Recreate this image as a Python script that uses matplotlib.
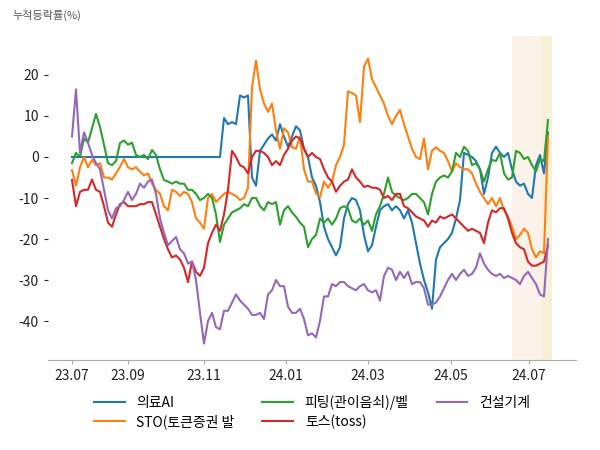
import matplotlib
matplotlib.use("Agg")
import matplotlib.pyplot as plt
from matplotlib.ticker import FuncFormatter

plt.rcParams['font.family'] = ['Noto Sans CJK KR', 'DejaVu Sans']

series_names = ["의료AI", "STO(토큰증권 발", "피팅(관이음쇠)/벨", "토스(toss)", "건설기계"]
series_colors = ["#1f77b4", "#ff7f0e", "#2ca02c", "#d62728", "#9467bd"]

medical_ai = [0]*38 + [
    9.5, 8, 8.5, 8, 15, 14.5, 15, -5, -7, 1.5,
    3, 4.5, 5.5, 4, 8, 5, 2.5, 5, 7.5, 6.5,
    2, 0, -5, -7, -11, -17, -20, -22, -24, -22,
    -15, -11.5, -10, -10.5, -13, -19, -23, -21.5, -17, -13,
    -12, -11.5, -13, -12, -13, -15, -13, -16, -21, -26,
    -30, -33, -37, -25, -22, -21, -20, -18.5, -15, -10.5,
    1, 0.5, 0, -1, -3, -9, -5, 1, 2.5, 1,
    0, 1, -3, -6, -7, -6.5, -9, -10, -2, 0.5,
    -4, 6]

sto = [
    -3.2, -7, -2.5, 0, -2.5, -0.7, -2, -1.5, -5, -5,
    -5.5, -4, -2.4, -0.5, -2.5, -3, -2.5, -3.6, -4.5, -4,
    -6.5, -8, -9, -12, -13, -8, -8.5, -9.5, -8.5, -9,
    -11, -15, -16, -17.5, -10, -9, -11, -10, -9, -8.5,
    -9, -9.5, -10.5, -10, -7.5, 17, 23.5, 16.5, 13, 11,
    13, 6.5, 2, 7, 6, 2.4, 2, 5, -3, -6,
    -6, -8.8, -9.8, -6, -7.5, -6, -2, 0, 3, 16,
    15.6, 15, 8.5, 22, 24, 19, 17, 15, 13, 10,
    8, 10, 11.5, 8, 5, 2, 0, -0.5, 4.5, -3,
    1.5, 2.4, 1.5, 1, -1, -3.5, -1.5, -2.5, -3, -3,
    -4, -6.5, -8.5, -10, -11.5, -10, -12, -10, -13, -14.5,
    -17, -20, -19, -17.5, -18.5, -22.5, -24.5, -23, -23.5, 5]

fitting = [
    -1.5, 1, 0, 4.5, 3.5, 7, 10.5, 7.3, 3, -1.5,
    -2, -1, 3.4, 4, 3, 3.5, 0.5, 0, 0.5, -0.5,
    1.7, 0.5, -3, -5.6, -6, -6.5, -6, -6.5, -6.5, -8,
    -8, -9, -10.5, -10, -9, -10, -14, -20.7, -16.5, -15,
    -13.5, -13, -12.5, -11.5, -12, -10, -10, -12, -13, -11,
    -11.5, -11, -16.5, -13, -12, -13.5, -14.6, -16, -17, -22,
    -20, -19, -15, -16, -15, -16.5, -15, -12.5, -12, -12.5,
    -15.5, -16, -15, -16.5, -15.5, -18, -14, -12, -9, -5,
    -8.5, -9.5, -10, -10.5, -10, -9, -9, -10, -11, -14,
    -9, -6, -5, -4.5, -5, -3.5, 1, 0, 2.5, 1.5,
    -2, -1.5, -3, -6, -3, -0.7, -1, 1, -4, -5.5,
    -5, 1.5, 1, -0.5, 0, -2, -3.5, -0.5, -1, 9]

toss = [
    -5.6, -12, -8.5, -8, -8, -5.5, -8, -8.5, -12, -16,
    -17, -14, -11.5, -11, -12, -12, -12, -11.5, -11.5, -11,
    -11, -14, -17, -20, -22.5, -24.5, -24, -25, -27, -30.5,
    -25.5, -28, -29, -27, -21, -18.5, -16.5, -18, -14, -8,
    1.5, 0, -2, -2.5, -4, 0, 1.5, 1.5, 1, 0,
    -2, -1, -2, 0.5, 2, 4, 5, 4.5, 2, 0,
    1, 0, -0.5, -3, -5, -6, -8.5, -7, -6, -5.5,
    -3, -5, -6, -7.3, -7, -7.5, -7.5, -8, -10, -9.5,
    -10.5, -9, -9, -12, -12.5, -13.5, -14.5, -15, -15.5, -17,
    -15.5, -16, -14.5, -15, -14.5, -14, -15, -16, -17, -18,
    -17.5, -18, -18.5, -21, -16, -13, -13.5, -12.5, -12.5, -15,
    -18.5, -21, -22, -22.5, -25.5, -26.5, -26.5, -26, -25.5, -21.5]

construction = [
    5, 16.5, 1, 6, 3.5, 0.5, -1.5, -3, -8, -13,
    -15, -12.5, -12, -10.5, -8.5, -10.5, -9, -6.5, -7.5, -6,
    -5.5, -9, -15, -18.5, -21.5, -20.5, -19.5, -22.5, -23.5, -26,
    -25.5, -30, -38, -45.5, -40, -38, -41.5, -42, -37.5, -37.5,
    -35.5, -33.5, -35, -36, -37, -38.5, -38.5, -38, -39.5, -33.5,
    -32.5, -30, -31.5, -31.5, -36.5, -38, -38, -37, -39.5, -43.5,
    -43, -44, -40, -34, -34, -31, -31.5, -30.5, -30.5, -31.5,
    -32, -32.5, -31.5, -31, -32.5, -33, -32.5, -35, -29, -27,
    -27.5, -30, -28, -29.5, -28, -31, -30.5, -30.5, -32, -36,
    -36, -35.5, -34, -32, -30, -28.5, -30, -28.5, -27.5, -29,
    -28.5, -27, -23.5, -26, -27.5, -28.5, -29, -28.5, -29.5, -29,
    -29.5, -30, -31, -29, -28, -29.5, -31, -33.5, -34, -20]

all_series = [medical_ai, sto, fitting, toss, construction]

tick_positions = [0, 14, 33, 53.5, 74, 94.8, 114.3]
tick_labels = ["23.07", "23.09", "23.11", "24.01", "24.03", "24.05", "24.07"]
band_spans = [(110, 117.5, "#faf1e8"), (117.5, 120, "#f5f0d6")]

fig = plt.figure(figsize=(6, 4.5), dpi=100)
ax = fig.add_axes([0.08, 0.2, 0.88, 0.72])

for x0, x1, c in band_spans:
    ax.axvspan(x0, x1, color=c, lw=0, zorder=0)

for name, vals, col in zip(series_names, all_series, series_colors):
    ax.plot(range(len(vals)), vals, color=col, lw=1.5, label=name, zorder=2)

ax.set_xlim(-6, 126)
ax.set_ylim(-49.5, 29.5)
ax.set_yticks([-40, -30, -20, -10, 0, 10, 20])
ax.yaxis.set_major_formatter(FuncFormatter(lambda v, p: f"{int(v)}"))
ax.set_xticks(tick_positions)
ax.set_xticklabels(tick_labels)

for s in ["left", "top", "right"]:
    ax.spines[s].set_visible(False)
ax.spines["bottom"].set_color("#aaaaaa")
ax.tick_params(axis="both", labelsize=10, colors="#222222", length=3)
ax.tick_params(axis="x", color="#aaaaaa")

fig.text(0.02, 0.965, "누적등락률(%)", fontsize=8, color="#555555", ha="left", va="center")

ax.legend(loc="upper center", bbox_to_anchor=(0.5, -0.07), ncol=3, frameon=False,
          fontsize=10, columnspacing=2.0, handlelength=2.2, handletextpad=0.85,
          labelspacing=0.3)

fig.savefig("out.png", dpi=100)
